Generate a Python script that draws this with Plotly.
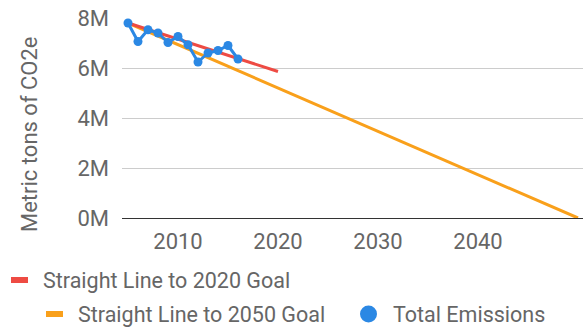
import plotly.graph_objects as go

years = [2005, 2006, 2007, 2008, 2009, 2010, 2011, 2012, 2013, 2014, 2015, 2016]
emissions = [7.80e6, 7.06e6, 7.53e6, 7.40e6, 7.02e6, 7.26e6, 6.93e6, 6.24e6, 6.60e6, 6.70e6, 6.90e6, 6.36e6]
goal2020_x = [2005, 2020]
goal2020_y = [7.80e6, 5.86e6]
goal2050_x = [2005, 2050]
goal2050_y = [7.80e6, 0]
y_ticks = [0, 2e6, 4e6, 6e6, 8e6]
y_tick_labels = ["0M", "2M", "4M", "6M", "8M"]
x_ticks = [2010, 2020, 2030, 2040]

RED = "#ee4b43"
ORANGE = "#f9a01b"
BLUE = "#2b88e4"
TXT = "#666666"
FONT = "Roboto"
FS = 22
LFS = 21.5

fig = go.Figure()
fig.add_trace(go.Scatter(x=goal2050_x, y=goal2050_y, mode="lines",
                         line=dict(color=ORANGE, width=3), name="Straight Line to 2050 Goal"))
fig.add_trace(go.Scatter(x=goal2020_x, y=goal2020_y, mode="lines",
                         line=dict(color=RED, width=3), name="Straight Line to 2020 Goal"))
fig.add_trace(go.Scatter(x=years, y=emissions, mode="lines+markers",
                         line=dict(color=BLUE, width=3), marker=dict(color=BLUE, size=9),
                         name="Total Emissions"))

L, R, T, B = 122, 583, 18, 218
W, H = 585, 327


def px(x):
    return (x - L) / (R - L)


def py(y):
    return (B - y) / (B - T)


shapes = []
annotations = []
# legend row 1
shapes.append(dict(type="line", xref="paper", yref="paper", x0=px(11), x1=px(28), y0=py(280), y1=py(280),
                   line=dict(color=RED, width=6)))
annotations.append(dict(xref="paper", yref="paper", x=px(41), y=py(280), xanchor="left", yanchor="middle",
                        text="Straight Line to 2020 Goal", showarrow=False, font=dict(family=FONT, size=LFS, color=TXT)))
# legend row 2
shapes.append(dict(type="line", xref="paper", yref="paper", x0=px(46), x1=px(63), y0=py(314), y1=py(314),
                   line=dict(color=ORANGE, width=6)))
annotations.append(dict(xref="paper", yref="paper", x=px(76), y=py(314), xanchor="left", yanchor="middle",
                        text="Straight Line to 2050 Goal", showarrow=False, font=dict(family=FONT, size=LFS, color=TXT)))
shapes.append(dict(type="circle", xref="paper", yref="paper", x0=px(360), x1=px(377), y0=py(305.5), y1=py(322.5),
                   fillcolor=BLUE, line=dict(width=0)))
annotations.append(dict(xref="paper", yref="paper", x=px(391), y=py(314), xanchor="left", yanchor="middle",
                        text="Total Emissions", showarrow=False, font=dict(family=FONT, size=LFS, color=TXT)))
# y axis title
annotations.append(dict(xref="paper", yref="paper", x=px(29), y=py(135), xanchor="center", yanchor="middle",
                        text="Metric tons of CO2e", textangle=-90, showarrow=False,
                        font=dict(family=FONT, size=FS, color=TXT)))

fig.update_layout(
    width=W, height=H,
    margin=dict(l=L, r=W - R, t=T, b=H - B),
    paper_bgcolor="white", plot_bgcolor="white",
    showlegend=False,
    font=dict(family=FONT, color=TXT, size=FS),
    shapes=shapes, annotations=annotations,
    xaxis=dict(range=[2004.4, 2050.5], tickvals=x_ticks, ticktext=[str(v) for v in x_ticks],
               showgrid=False, zeroline=False, showline=False, ticks="",
               ticklabelstandoff=8,
               tickfont=dict(family=FONT, size=FS, color=TXT)),
    yaxis=dict(range=[0, 8e6], tickvals=y_ticks, ticktext=y_tick_labels,
               showgrid=True, gridcolor="#cccccc", gridwidth=1,
               zeroline=True, zerolinecolor="#333333", zerolinewidth=1,
               showline=False, ticks="", ticklabelstandoff=12,
               tickfont=dict(family=FONT, size=FS, color=TXT)),
)

fig.write_html("out.html")
